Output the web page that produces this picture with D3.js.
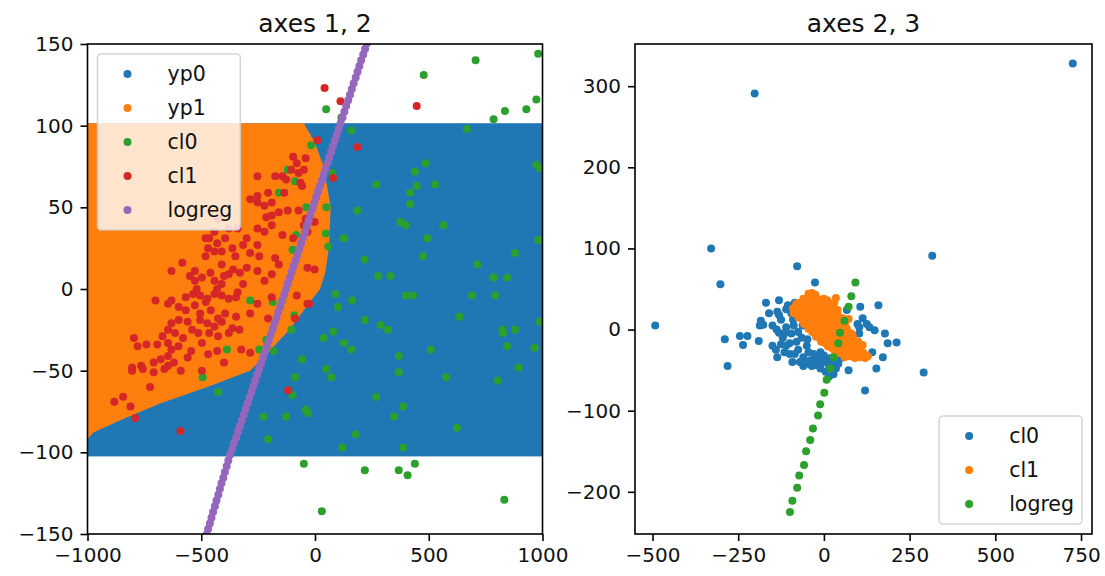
<!DOCTYPE html>
<html>
<head>
<meta charset="utf-8">
<script src="https://cdn.jsdelivr.net/npm/d3@7"></script>
<style>
  body { margin: 0; background: #fff; }
  svg text { font-family: "DejaVu Sans", sans-serif; }
</style>
</head>
<body>
<div id="chart"></div>
<script>
// ---- data: axes 1, 2 ----
const titles = ['axes 1, 2', 'axes 2, 3'];
const legend12 = ['yp0', 'yp1', 'cl0', 'cl1', 'logreg'];
const legend23 = ['cl0', 'cl1', 'logreg'];
const ticksX12 = [-1000, -500, 0, 500, 1000];
const ticksY12 = [-150, -100, -50, 0, 50, 100, 150];
const ticksX23 = [-500, -250, 0, 250, 500, 750];
const ticksY23 = [-200, -100, 0, 100, 200, 300];
const limX12 = [-1000, 1000], limY12 = [-150, 150];
const limX23 = [-551, 782], limY23 = [-252, 352];

// prediction grid extent (yp0 covers it, yp1 is the part left of the boundary)
const gridX = [-1000, 1000];
const gridY = [-102.5, 101.5];
const boundaryY = [101.5, 90, 75, 50, 25, 10, 0, -10, -25, -40, -50, -60, -70, -80, -88, -92];
const boundaryX = [-49, -2, 38, 69, 61, 45, 22, -33, -112, -214, -285, -473, -678, -851, -976, -1000];

const cl0_12 = [[706,140],[981,144],[478,131],[49,110],[973,116],[929,110],[835,109],[785,104],[667,98],[160,97],[116,105],[-17,88],
  [486,77],[439,72],[973,76],[989,74],[269,64],[528,64],[447,63],[418,59],[418,52],[187,48],[376,41],[400,39],[565,39],[494,31],
  [127,31],[981,30],[879,22],[218,18],[475,20],[714,15],[277,8],[332,8],[785,7],[844,7],[-120,73],[-88,66],[-159,59],[-38,50],
  [50,50],[48,34],[58,26],[-83,33],[-99,24],[77,71],[-285,-7],[-186,-8],[-91,-16],[-104,-25],[-214,-31],[-182,-38],[-245,-37],
  [-387,-37],[-494,-54],[-426,-63],[-57,-43],[-88,-54],[-99,-65],[-41,-74],[-30,-76],[-226,-78],[-127,-78],[-206,-92],[-49,-107],
  [30,-136],[120,-97],[179,-89],[219,-111],[269,-66],[347,-78],[387,-72],[387,-97],[368,-111],[407,-114],[439,-107],[832,-129],
  [624,-85],[577,-54],[803,-56],[368,-51],[368,-41],[509,-37],[895,-48],[965,-36],[844,-35],[824,-25],[827,-27],[879,-25],
  [989,-20],[635,-17],[690,-4],[792,-4],[399,-4],[431,-4],[90,-3],[101,-11],[164,-7],[219,-19],[289,-22],[321,-25],[80,-26],
  [38,-30],[127,-33],[160,-37],[49,-49],[72,-54]];

const cl1_12 = [[42,123],[112,115],[447,112],[11,91],[187,87],[80,68],[-2,41],[-41,43],
  [-96,81],[-80,77],[-41,80],[-104,73],[-72,71],[-49,73],[-253,69],[-175,69],[-143,69],[-127,67],[-206,59],[-135,59],[-57,63],
  [-64,65],[-285,55],[-253,57],[-253,53],[-222,51],[-190,53],[-120,48],[-72,48],[-159,47],[-214,44],[-190,45],[-253,37],[-222,35],
  [-190,39],[-143,33],[-49,39],[-33,35],[-379,37],[-340,37],[-426,43],[-442,35],[-395,31],[-481,31],[-465,31],[-442,23],[-410,23],
  [-316,27],[-285,22],[-245,20],[-175,19],[-363,25],[-300,31],[-253,27],[-96,31],[-481,20],[-410,15],[-379,9],[-583,16],[-631,11],
  [-528,11],[-497,7],[-528,5],[-159,15],[-300,13],[-253,11],[-190,9],[-33,13],[-2,12],[-442,5],[-410,3],[-316,3],[-222,5],
  [-701,-7],[-646,-9],[-631,-7],[-568,-5],[-536,-3],[-505,-4],[-473,-6],[-442,-3],[-410,-4],[-379,-6],[-347,-5],
  [-599,-11],[-568,-13],[-528,-10],[-505,-15],[-458,-13],[-426,-18],[-395,-15],[-347,-17],
  [-599,-19],[-631,-21],[-646,-25],[-615,-27],[-670,-29],[-646,-33],[-693,-34],[-631,-37],[-646,-41],[-678,-43],[-662,-49],
  [-709,-51],[-646,-47],[-505,-19],[-473,-21],[-442,-23],[-410,-20],[-363,-24],[-332,-25],[-513,-27],[-465,-27],[-426,-29],
  [-379,-27],[-497,-33],[-544,-38],[-324,-37],[-285,-39],[-796,-30],[-780,-35],[-741,-34],[-804,-48],[-764,-47],[-709,-45],
  [-804,-50],[-757,-49],[-497,-50],[-725,-60],[-882,-69],[-843,-66],[-811,-72],[-791,-79],[-591,-87],[-118,-62],
  [-206,-18],[-190,-5],[-88,-18],[-80,-4],[-25,-9],[-285,-15],[-253,-9],[-33,-9],
  [-460,10],[-430,0],[-400,8],[-360,12],[-340,-2],[-480,-8],[-520,0],[-550,8],[-470,25],[-430,28],[-350,20],[-330,10],
  [-560,-20],[-580,-30],[-540,-25],[-600,-35],[-620,-45],[-590,-50],[-560,-42],[-470,-40],[-430,-38],[-400,-45]];

const logregY12 = [-154,-150.5,-147,-143.5,-140,-136.5,-133,-129.5,-126,-122.5,-119,-115.5,-112,-108.5,-105,-101.5,-98,-94.5,-91,
  -87.5,-84,-80.5,-77,-73.5,-70,-66.5,-63,-59.5,-56,-52.5,-49,-45.5,-42,-38.5,-35,-31.5,-28,-24.5,-21,-17.5,-14,-10.5,-7,-3.5,0,
  3.5,7,10.5,14,17.5,21,24.5,28,31.5,35,38.5,42,45.5,49,52.5,56,59.5,63,66.5,70,73.5,77,80.5,84,87.5,91,94.5,98,101.5,105,108.5,
  112,115.5,119,122.5,126,129.5,133,136.5,140,143.5,147,150.5,154];
const logregX12 = [-484,-477,-470,-462,-455,-448,-440,-433,-425,-418,-411,-403,-396,-388,-381,-373,-364,-356,-347,
  -339,-330,-322,-313,-305,-296,-288,-279,-271,-263,-254,-246,-237,-229,-220,-212,-203,-195,-186,-178,-169,-161,-152,-144,-135,-127,
  -119,-110,-102,-94,-86,-77,-69,-61,-53,-44,-36,-28,-20,-11,-3,5,13,22,30,38,46,55,63,71,79,88,96,104,113,121,129,
  137,146,154,162,170,179,187,195,203,212,220,228,236];

// ---- data: axes 2, 3 ----
const cl0_23 = [[726,328],[-202,291],[-329,100],[316,91],[-78,78],[-26,58],[-302,56],[-492,5],[-289,-12],[-281,-45],[-245,-8],
  [-236,-19],[-223,-8],[-190,-14],[-184,11],[-187,5],[-177,6],[-169,33],[-131,36],[-136,22],[-131,18],[-138,0],[-131,-4],[-136,-34],
  [-92,-40],[-100,-17],[-75,-25],[-60,-34],[-40,-38],[-19,-44],[1,-40],[21,-46],[42,-42],[72,-50],[106,28],[113,14],[125,7],[98,7],
  [103,3],[133,3],[148,-1],[178,-5],[186,-17],[212,-16],[159,30],[141,-28],[172,-34],[153,-48],[120,-75],[291,-53],[28,-55],
  [-85,33],[-70,28],[-90,12],[-110,3],[37,20],[67,24],[103,-5],[-120,-10],[-110,-20],[-95,-5],[-80,-15],[-65,-10],[-50,-20],
  [-45,-28],[-30,-30],[-20,-35],[-10,-28],[0,-32],[10,-38],[20,-35],[30,-40],[50,-35],[60,-30],[-60,-45],[-35,-45],[-10,-48],
  [5,-52],[15,-58],[-100,-30],[-115,-28],[-125,12],[-110,25],[-95,20],[-105,30],[-150,-20],[-140,-25],[-125,-18],[-115,-5],
  [-85,-30],[-70,-40],[-50,-42],[-25,-40],[-5,-36],[15,-45],[35,-48],[-160,20],[-150,5],[-88,5],[-75,-3],[-62,5],[-48,-12]];
const cl1_23 = [[-45,44],[-35,45],[-25,43],
  [-60,38],[-48,39],[-36,37],[-24,38],[-12,37],[0,38],[10,36],[30,33],[35,39],
  [-80,32],[-68,33],[-56,31],[-44,32],[-32,31],[-20,33],[-8,31],[4,32],[16,30],[28,32],
  [-90,26],[-78,27],[-66,25],[-54,26],[-42,27],[-30,25],[-18,26],[-6,27],[6,25],[18,26],[30,26],[40,24],
  [-88,20],[-80,21],[-68,19],[-56,20],[-44,21],[-32,19],[-20,20],[-8,21],[4,19],[16,20],[28,21],[40,19],
  [-74,15],[-64,13],[-52,14],[-40,15],[-28,13],[-16,14],[-4,15],[8,13],[20,14],[32,15],[44,13],[55,14],[72,13],
  [-58,7],[-46,8],[-32,9],[-20,7],[-8,8],[4,9],[16,7],[28,8],[40,9],[52,7],[62,8],
  [-45,1],[-29,2],[-17,3],[-5,1],[7,2],[19,3],[31,1],[43,2],[55,3],[67,1],
  [-34,-3],[-26,-5],[-14,-4],[-2,-3],[10,-5],[22,-4],[34,-3],[46,-5],[58,-4],[70,-3],[80,-5],
  [-23,-9],[-11,-11],[1,-10],[13,-9],[25,-11],[37,-10],[49,-9],[61,-11],[73,-10],[85,-9],
  [-8,-15],[4,-17],[16,-16],[28,-15],[40,-17],[52,-16],[64,-15],[76,-17],[88,-16],[100,-15],[113,-19],
  [12,-21],[24,-23],[36,-22],[48,-21],[60,-23],[72,-22],[84,-21],[96,-23],[108,-22],
  [32,-27],[44,-29],[56,-28],[68,-27],[80,-29],[92,-28],[104,-27],[116,-29],
  [60,-34],[75,-33],[90,-35],[105,-34],[120,-35],[128,-33]];
const logreg_23 = [[92,58],[80,41],[72,28],[60,11],[47,-4],[42,-17],[28,-34],[19,-48],[8,-62],[1,-78],[-11,-92],[-17,-106],
  [-32,-122],[-40,-136],[-52,-150],[-58,-167],[-72,-180],[-78,-195],[-92,-211],[-99,-225]];

const colors = { blue: '#1f77b4', orange: '#ff7f0e', green: '#2ca02c', red: '#d62728', purple: '#9467bd' };

const width = 1105, height = 576;
const svg = d3.select('#chart').append('svg')
    .attr('width', width)
    .attr('height', height);

const axTop = 44, axBottom = 534;
const fontSize = 20;

function makePanel(id, left, right, limX, limY, ticksX, ticksY, title) {
    const x = d3.scaleLinear().domain(limX).range([left, right]);
    const y = d3.scaleLinear().domain(limY).range([axBottom, axTop]);
    const g = svg.append('g');

    svg.append('clipPath').attr('id', 'clip' + id)
        .append('rect')
        .attr('x', left).attr('y', axTop)
        .attr('width', right - left).attr('height', axBottom - axTop);
    const plot = g.append('g').attr('clip-path', `url(#clip${id})`);

    const fmt = d3.format('d');
    const gx = g.append('g')
        .attr('transform', `translate(0,${axBottom})`)
        .call(d3.axisBottom(x).tickValues(ticksX).tickSize(7).tickPadding(7).tickFormat(fmt));
    const gy = g.append('g')
        .attr('transform', `translate(${left},0)`)
        .call(d3.axisLeft(y).tickValues(ticksY).tickSize(7).tickPadding(7).tickFormat(fmt));
    [gx, gy].forEach(a => {
        a.select('.domain').remove();
        a.selectAll('line').attr('stroke', '#000').attr('stroke-width', 1.6);
        a.selectAll('text').attr('font-size', fontSize).attr('fill', '#111').style('font-family', 'DejaVu Sans');
    });

    g.append('text')
        .attr('x', (left + right) / 2)
        .attr('y', axTop - 12)
        .attr('text-anchor', 'middle')
        .attr('font-size', 25)
        .attr('fill', '#111')
        .text(title);

    return { x, y, g, plot, left, right };
}

function dots(p, pts, color) {
    p.plot.append('g')
        .selectAll('circle')
        .data(pts)
        .enter().append('circle')
        .attr('cx', d => p.x(d[0]))
        .attr('cy', d => p.y(d[1]))
        .attr('r', 4)
        .attr('fill', color);
}

function frame(p) {
    p.g.append('rect')
        .attr('x', p.left).attr('y', axTop)
        .attr('width', p.right - p.left).attr('height', axBottom - axTop)
        .attr('fill', 'none')
        .attr('stroke', '#000')
        .attr('stroke-width', 1.6);
}

function legend(p, labels, cols, anchor) {
    const pad = 8, rowH = 24, gap = 10, handle = 44, textPad = 18;
    const lg = p.g.append('g');
    const box = lg.append('rect');
    const texts = labels.map((l, i) => lg.append('text')
        .attr('font-size', 20.5).attr('fill', '#111').text(l));
    const textW = d3.max(texts, t => t.node().getComputedTextLength());
    const w = pad + handle + textPad + textW + pad;
    const h = pad * 2 + labels.length * rowH + (labels.length - 1) * gap;
    const x0 = anchor === 'ul' ? p.left + 10 : p.right - 10 - w;
    const y0 = anchor === 'ul' ? axTop + 10 : axBottom - 10 - h;
    box.attr('x', x0).attr('y', y0).attr('width', w).attr('height', h)
        .attr('rx', 4).attr('fill', '#fff').attr('fill-opacity', 0.8)
        .attr('stroke', '#ccc').attr('stroke-opacity', 0.8).attr('stroke-width', 1.6);
    labels.forEach((l, i) => {
        const cy = y0 + pad + rowH / 2 + i * (rowH + gap);
        lg.append('circle').attr('cx', x0 + pad + handle / 2).attr('cy', cy).attr('r', 4).attr('fill', cols[i]);
        texts[i].attr('x', x0 + pad + handle + textPad).attr('y', cy + 7);
    });
}

// ---- left panel ----
const p1 = makePanel(1, 87.5, 542.5, limX12, limY12, ticksX12, ticksY12, titles[0]);
p1.plot.append('rect')
    .attr('x', p1.x(gridX[0])).attr('y', p1.y(gridY[1]))
    .attr('width', p1.x(gridX[1]) - p1.x(gridX[0]))
    .attr('height', p1.y(gridY[0]) - p1.y(gridY[1]))
    .attr('fill', colors.blue);
const region1 = [[gridX[0], boundaryY[0]]].concat(boundaryY.map((v, i) => [boundaryX[i], v]));
p1.plot.append('path')
    .datum(region1)
    .attr('d', d3.line().x(d => p1.x(d[0])).y(d => p1.y(d[1])))
    .attr('fill', colors.orange);
dots(p1, cl0_12, colors.green);
dots(p1, cl1_12, colors.red);
dots(p1, logregY12.map((v, i) => [logregX12[i], v]), colors.purple);
frame(p1);
legend(p1, legend12, [colors.blue, colors.orange, colors.green, colors.red, colors.purple], 'ul');

// ---- right panel ----
const p2 = makePanel(2, 635, 1092, limX23, limY23, ticksX23, ticksY23, titles[1]);
dots(p2, cl0_23, colors.blue);
dots(p2, cl1_23, colors.orange);
dots(p2, logreg_23, colors.green);
frame(p2);
legend(p2, legend23, [colors.blue, colors.orange, colors.green], 'lr');
</script>
</body>
</html>
